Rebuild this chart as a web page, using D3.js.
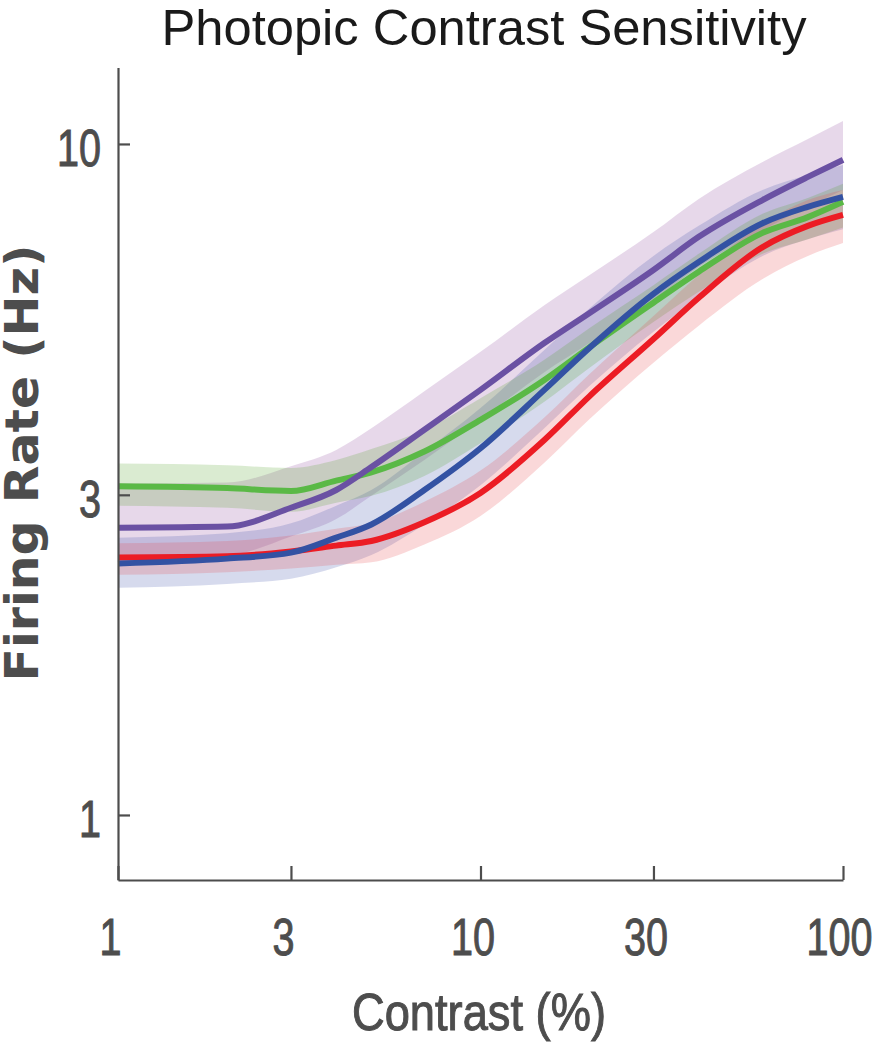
<!DOCTYPE html>
<html>
<head>
<meta charset="utf-8">
<script src="https://cdn.jsdelivr.net/npm/d3@7"></script>
<style>
  html, body { margin: 0; padding: 0; background: #fff; }
  svg { display: block; }
</style>
</head>
<body>
<div id="chart"></div>
<script>
// contrast levels (%) where the curves were sampled
const contrastPct = [1, 2, 3, 4, 5, 7, 10, 15, 20, 30, 40, 60, 80, 100];

// firing rate (Hz): mean line + shaded band, one set per group
const greenMean  = [3.09, 3.07, 3.04, 3.15, 3.24, 3.48, 3.88, 4.45, 4.98, 5.80, 6.45, 7.37, 7.78, 8.20];
const greenUpper = [3.34, 3.32, 3.29, 3.38, 3.51, 3.75, 4.18, 4.77, 5.32, 6.16, 6.86, 7.87, 8.31, 8.72];
const greenLower = [2.89, 2.87, 2.83, 2.92, 2.99, 3.20, 3.58, 4.13, 4.64, 5.43, 6.02, 6.86, 7.21, 7.51];

const purpleMean  = [2.68, 2.69, 2.87, 3.05, 3.30, 3.75, 4.30, 5.05, 5.60, 6.49, 7.27, 8.25, 8.93, 9.47];
const purpleUpper = [3.12, 3.13, 3.31, 3.50, 3.77, 4.28, 4.90, 5.75, 6.38, 7.39, 8.28, 9.40, 10.17, 10.82];
const purpleLower = [2.43, 2.44, 2.60, 2.76, 2.99, 3.38, 3.88, 4.57, 5.05, 5.85, 6.56, 7.44, 8.06, 8.54];

const blueMean  = [2.37, 2.41, 2.46, 2.59, 2.71, 3.05, 3.52, 4.30, 4.97, 5.98, 6.67, 7.62, 8.06, 8.34];
const blueUpper = [2.59, 2.63, 2.72, 2.89, 3.05, 3.48, 4.04, 4.93, 5.69, 6.81, 7.55, 8.54, 8.99, 9.30];
const blueLower = [2.18, 2.21, 2.25, 2.34, 2.44, 2.71, 3.10, 3.77, 4.36, 5.25, 5.90, 6.81, 7.21, 7.46];

const redMean  = [2.42, 2.43, 2.47, 2.52, 2.56, 2.73, 3.02, 3.62, 4.21, 5.12, 5.90, 7.02, 7.55, 7.84];
const redUpper = [2.54, 2.56, 2.61, 2.67, 2.72, 2.93, 3.26, 3.91, 4.54, 5.54, 6.38, 7.62, 8.25, 8.54];
const redLower = [2.28, 2.30, 2.33, 2.36, 2.38, 2.53, 2.79, 3.35, 3.89, 4.72, 5.36, 6.29, 6.81, 7.12];

const xTicks = [1, 3, 10, 30, 100];
const yTicks = [1, 3, 10];

// groups in drawing order (last one ends up on top)
const groups = [
  { name: "purple", mean: purpleMean, upper: purpleUpper, lower: purpleLower, line: "#6a51a3", band: "#8c469b" },
  { name: "blue",   mean: blueMean,   upper: blueUpper,   lower: blueLower,   line: "#3352a3", band: "#3c50aa" },
  { name: "green",  mean: greenMean,  upper: greenUpper,  lower: greenLower,  line: "#5ab946", band: "#50a028" },
  { name: "red",    mean: redMean,    upper: redUpper,    lower: redLower,    line: "#ec1c24", band: "#e6464b" }
];
const lineOrder = ["green", "red", "blue", "purple"];

const width = 876, height = 1050;
const axisColor = "#4d4d4d";
const font = "'Liberation Sans', Arial, sans-serif";

const svg = d3.select("#chart").append("svg")
  .attr("width", width)
  .attr("height", height);

const x = d3.scaleLog().domain([1, 100]).range([118, 843]);
const y = d3.scaleLog().domain([0.8, 13]).range([880, 67.5]);

// Bands
const area = d3.area()
  .curve(d3.curveMonotoneX)
  .x(d => x(d.c))
  .y0(d => y(d.lo))
  .y1(d => y(d.hi));

svg.append("g").attr("class", "bands")
  .selectAll("path")
  .data(groups)
  .join("path")
  .attr("d", g => area(contrastPct.map((c, i) => ({ c, lo: g.lower[i], hi: g.upper[i] }))))
  .attr("fill", g => g.band)
  .attr("fill-opacity", 0.21)
  .attr("stroke", "none");

// Mean lines
const line = d3.line()
  .curve(d3.curveMonotoneX)
  .x(d => x(d.c))
  .y(d => y(d.v));

svg.append("g").attr("class", "lines")
  .selectAll("path")
  .data(lineOrder.map(n => groups.find(g => g.name === n)))
  .join("path")
  .attr("d", g => line(contrastPct.map((c, i) => ({ c, v: g.mean[i] }))))
  .attr("fill", "none")
  .attr("stroke", g => g.line)
  .attr("stroke-width", 6)
  .attr("stroke-linejoin", "round");

// Axes
const xAxis = d3.axisBottom(x)
  .tickValues(xTicks)
  .tickFormat(d3.format("d"))
  .tickSizeInner(-14)
  .tickSizeOuter(0)
  .tickPadding(38);

const yAxis = d3.axisLeft(y)
  .tickValues(yTicks)
  .tickFormat(d3.format("d"))
  .tickSizeInner(-12)
  .tickSizeOuter(0)
  .tickPadding(17);

const gx = svg.append("g")
  .attr("transform", `translate(0,${y.range()[0]})`)
  .call(xAxis);

const gy = svg.append("g")
  .attr("transform", `translate(${x.range()[0]},0)`)
  .call(yAxis);

// condensed look: squeeze the digits to ~22px each, thicken a bit
[gx, gy].forEach(g => {
  g.select(".domain").attr("stroke", axisColor).attr("stroke-width", 2.2);
  g.selectAll(".tick line").attr("stroke", axisColor).attr("stroke-width", 2.2);
  g.selectAll(".tick text")
    .attr("fill", axisColor)
    .attr("stroke", axisColor)
    .attr("stroke-width", 1)
    .attr("textLength", d => String(d).length * 22)
    .attr("lengthAdjust", "spacingAndGlyphs")
    .style("font-family", font)
    .style("font-size", "52px");
});
gx.selectAll(".tick text").attr("dx", d => d === 100 ? -4 : -8);
gy.selectAll(".tick text").attr("dy", "0.42em");

// Title
svg.append("text")
  .attr("x", 484)
  .attr("y", 45)
  .attr("text-anchor", "middle")
  .attr("textLength", 645)
  .attr("lengthAdjust", "spacingAndGlyphs")
  .attr("fill", "#1a1a1a")
  .style("font-family", font)
  .style("font-size", "50px")
  .text("Photopic Contrast Sensitivity");

// X label
svg.append("text")
  .attr("x", 479)
  .attr("y", 1030)
  .attr("text-anchor", "middle")
  .attr("textLength", 254)
  .attr("lengthAdjust", "spacingAndGlyphs")
  .attr("fill", axisColor)
  .attr("stroke", axisColor)
  .attr("stroke-width", 1)
  .style("font-family", font)
  .style("font-size", "52px")
  .text("Contrast (%)");

// Y label
svg.append("text")
  .attr("transform", "translate(38,463) rotate(-90)")
  .attr("text-anchor", "middle")
  .attr("textLength", 437)
  .attr("lengthAdjust", "spacingAndGlyphs")
  .attr("fill", axisColor)
  .style("font-family", "'DejaVu Sans', sans-serif")
  .style("font-weight", "bold")
  .style("font-size", "46px")
  .text("Firing Rate (Hz)");
</script>
</body>
</html>
